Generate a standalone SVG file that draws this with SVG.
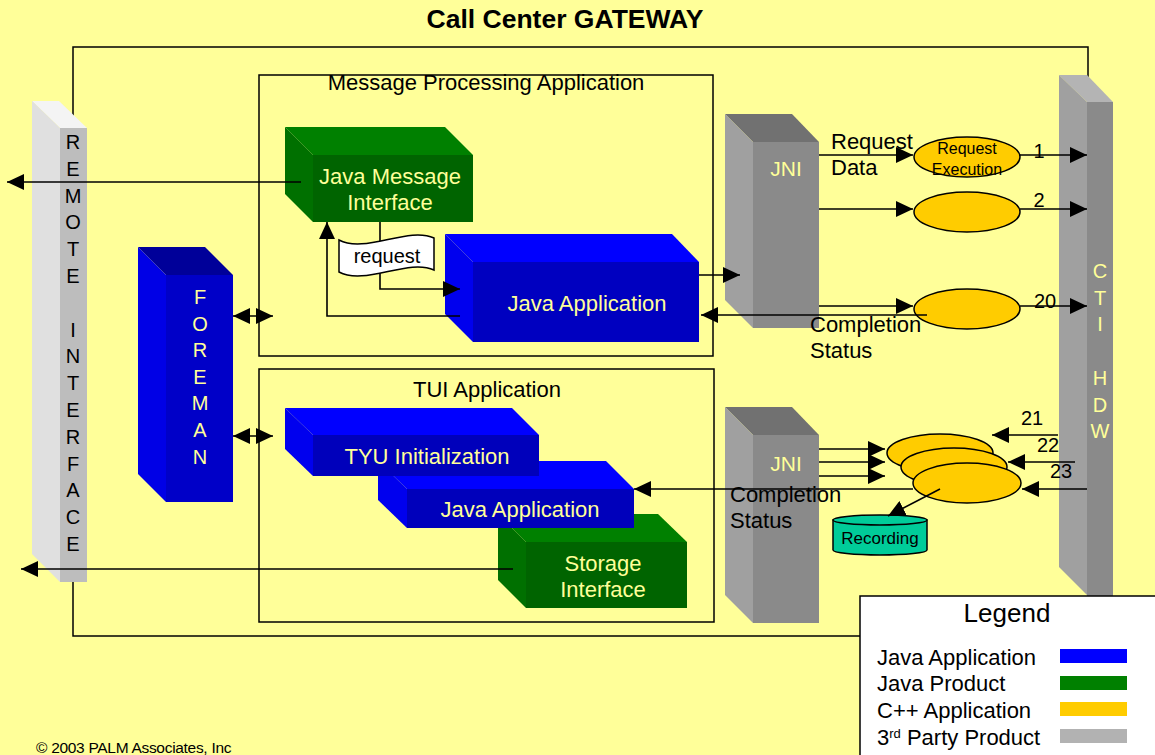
<svg xmlns="http://www.w3.org/2000/svg" width="1155" height="755" viewBox="0 0 1155 755">
<style>
text{font-family:"Liberation Sans",Arial,sans-serif;}
.lbl{font-size:22px;fill:#000;}
.yl{font-size:21px;fill:#FFFF99;}
.box{fill:none;stroke:#000;stroke-width:1.5;}
.con{fill:none;stroke:#000;stroke-width:1.6;}
.ell{fill:#FFCC00;stroke:#000;stroke-width:1.5;}
.vt{font-size:20px;text-anchor:middle;}
</style>
<defs>
<marker id="ah" viewBox="0 0 17 16" refX="17" refY="8" markerWidth="17" markerHeight="16" markerUnits="userSpaceOnUse" orient="auto-start-reverse"><path d="M0,0L17,8L0,16z" fill="#000"/></marker>
</defs>
<rect width="1155" height="755" fill="#FFFF99"/>
<text x="565" y="28" text-anchor="middle" style="font-size:26.5px;font-weight:bold">Call Center GATEWAY</text>
<rect id="gateway" class="box" x="73" y="47" width="1015" height="589"/>
<g id="mpa"><rect class="box" x="259" y="75" width="454" height="281"/><text class="lbl" x="486" y="90" text-anchor="middle">Message Processing Application</text></g>
<g id="tui"><rect class="box" x="259" y="369" width="455" height="253"/><text class="lbl" x="487" y="397" text-anchor="middle">TUI Application</text></g>

<g id="remote-interface">
<polygon points="32,101 59,101 87,128 60,128" fill="#F4F4F4"/>
<polygon points="32,101 60,128 60,582 32,554" fill="#E0E0E0"/>
<rect x="60" y="128" width="27" height="454" fill="#BDBDBD"/>
<text class="vt" fill="#000" x="73" y="149"><tspan x="73">R</tspan><tspan x="73" dy="26.8">E</tspan><tspan x="73" dy="26.8">M</tspan><tspan x="73" dy="26.8">O</tspan><tspan x="73" dy="26.8">T</tspan><tspan x="73" dy="26.8">E</tspan><tspan x="73" dy="53.6">I</tspan><tspan x="73" dy="26.8">N</tspan><tspan x="73" dy="26.8">T</tspan><tspan x="73" dy="26.8">E</tspan><tspan x="73" dy="26.8">R</tspan><tspan x="73" dy="26.8">F</tspan><tspan x="73" dy="26.8">A</tspan><tspan x="73" dy="26.8">C</tspan><tspan x="73" dy="26.8">E</tspan></text>
</g>

<g id="foreman">
<polygon points="138,247 205,247 233,275 166,275" fill="#000099"/>
<polygon points="138,247 166,275 166,502 138,474" fill="#0000E6"/>
<rect x="166" y="275" width="67" height="227" fill="#0000C8"/>
<text class="vt" fill="#FFFF99" x="200" y="304"><tspan x="200">F</tspan><tspan x="200" dy="26.6">O</tspan><tspan x="200" dy="26.6">R</tspan><tspan x="200" dy="26.6">E</tspan><tspan x="200" dy="26.6">M</tspan><tspan x="200" dy="26.6">A</tspan><tspan x="200" dy="26.6">N</tspan></text>
</g>

<g id="cti-hdw">
<polygon points="1059,75 1087,75 1113,102 1087,102" fill="#B4B4B4"/>
<polygon points="1059,75 1087,102 1087,595 1059,567" fill="#A0A0A0"/>
<rect x="1087" y="102" width="26" height="496" fill="#8A8A8A"/>
<text class="vt" fill="#FFFF99" x="1100" y="278"><tspan x="1100">C</tspan><tspan x="1100" dy="26.7">T</tspan><tspan x="1100" dy="26.7">I</tspan><tspan x="1100" dy="53.4">H</tspan><tspan x="1100" dy="26.7">D</tspan><tspan x="1100" dy="26.7">W</tspan></text>
</g>

<g id="java-message-interface">
<polygon points="285,127 445,127 473,155 313,155" fill="#008000"/>
<polygon points="285,127 313,155 313,222 285,194" fill="#007000"/>
<rect x="313" y="155" width="160" height="67" fill="#006400"/>
<text class="yl" x="390" y="184" text-anchor="middle" style="font-size:22px">Java Message</text>
<text class="yl" x="390" y="210" text-anchor="middle" style="font-size:22px">Interface</text>
</g>

<g id="java-application-mpa">
<polygon points="445,234 672,234 699,262 473,262" fill="#0000FF"/>
<polygon points="445,234 473,262 473,342 445,314" fill="#0000EE"/>
<rect x="473" y="262" width="226" height="80" fill="#0000C0"/>
<text class="yl" x="587" y="311" text-anchor="middle" style="font-size:22px">Java Application</text>
</g>

<g id="jni-top">
<polygon points="725,114 792,114 819,142 753,142" fill="#717171"/>
<polygon points="725,114 753,142 753,328 725,300" fill="#A0A0A0"/>
<rect x="753" y="142" width="66" height="186" fill="#8A8A8A"/>
<text class="yl" x="786" y="176" text-anchor="middle">JNI</text>
</g>

<g id="jni-bottom">
<polygon points="725,407 792,407 819,435 753,435" fill="#717171"/>
<polygon points="725,407 753,435 753,623 725,595" fill="#A0A0A0"/>
<rect x="753" y="435" width="66" height="188" fill="#8A8A8A"/>
<text class="yl" x="786" y="471" text-anchor="middle">JNI</text>
</g>

<g id="storage-interface">
<polygon points="498,514 658,514 687,542 526,542" fill="#008000"/>
<polygon points="498,514 526,542 526,608 498,580" fill="#007000"/>
<rect x="526" y="542" width="161" height="66" fill="#006400"/>
<text class="yl" x="603" y="571" text-anchor="middle" style="font-size:22px">Storage</text>
<text class="yl" x="603" y="597" text-anchor="middle" style="font-size:22px">Interface</text>
</g>

<g id="java-application-tui">
<polygon points="378,461 606,461 634,489 407,489" fill="#0000FF"/>
<polygon points="378,461 407,489 407,528 378,500" fill="#0000EE"/>
<rect x="407" y="489" width="227" height="39" fill="#0000BB"/>
<text class="yl" x="520" y="517" text-anchor="middle" style="font-size:22px">Java Application</text>
</g>

<g id="tyu-initialization">
<polygon points="285,408 512,408 539,435 313,435" fill="#0000FF"/>
<polygon points="285,408 313,435 313,476 285,449" fill="#0000EE"/>
<rect x="313" y="435" width="226" height="41" fill="#0000BB"/>
<text class="yl" x="427" y="464" text-anchor="middle" style="font-size:22px">TYU Initialization</text>
</g>

<g id="request-execution-1"><ellipse class="ell" cx="967" cy="157" rx="53" ry="20"/>
<text x="967" y="154" text-anchor="middle" style="font-size:16px">Request</text>
<text x="967" y="175" text-anchor="middle" style="font-size:16px">Execution</text></g>
<g id="request-execution-2"><ellipse class="ell" cx="967" cy="212" rx="53" ry="20"/></g>
<g id="request-execution-20"><ellipse class="ell" cx="967" cy="309" rx="53" ry="20"/></g>
<g id="tui-exec-21"><ellipse class="ell" cx="940" cy="453" rx="53" ry="19"/></g>
<g id="tui-exec-22"><ellipse class="ell" cx="954" cy="467" rx="53" ry="19"/></g>
<g id="tui-exec-23"><ellipse class="ell" cx="967" cy="483" rx="54" ry="20"/></g>

<g id="recording">
<path d="M833,520 V550 A47,5 0 0 0 927,550 V520 Z" fill="#00CC99" stroke="#000" stroke-width="1.5"/>
<ellipse cx="880" cy="520" rx="47" ry="5" fill="#00CC99" stroke="#000" stroke-width="1.5"/>
<text x="880" y="544" text-anchor="middle" style="font-size:17px">Recording</text>
</g>

<g id="connectors" class="con">
<path class="con" d="M301,182 H7" marker-end="url(#ah)"/>
<path class="con" d="M380,222 V289 H460" marker-end="url(#ah)"/>
<path class="con" d="M460,316 H327 V222" marker-end="url(#ah)"/>
<path class="con" d="M233,316 H273" marker-start="url(#ah)" marker-end="url(#ah)"/>
<path class="con" d="M233,436 H273" marker-start="url(#ah)" marker-end="url(#ah)"/>
<path class="con" d="M699,275 H740" marker-end="url(#ah)"/>
<path class="con" d="M927,315 H701" marker-end="url(#ah)"/>
<path class="con" d="M819,155 H913" marker-end="url(#ah)"/>
<path class="con" d="M1020,155 H1087" marker-end="url(#ah)"/>
<path class="con" d="M819,209 H913" marker-end="url(#ah)"/>
<path class="con" d="M1020,209 H1087" marker-end="url(#ah)"/>
<path class="con" d="M819,306 H913" marker-end="url(#ah)"/>
<path class="con" d="M1020,306 H1087" marker-end="url(#ah)"/>
<path class="con" d="M819,449 H885" marker-end="url(#ah)"/>
<path class="con" d="M819,462 H885" marker-end="url(#ah)"/>
<path class="con" d="M819,476 H885" marker-end="url(#ah)"/>
<path class="con" d="M1058,435 H992" marker-end="url(#ah)"/>
<path class="con" d="M1075,462 H1008" marker-end="url(#ah)"/>
<path class="con" d="M1087,489 H1022" marker-end="url(#ah)"/>
<path class="con" d="M913,489 H634" marker-end="url(#ah)"/>
<path class="con" d="M940,489 L888,516" marker-end="url(#ah)"/>
<path class="con" d="M513,569 H21" marker-end="url(#ah)"/>
</g>

<g id="request">
<path d="M339,240 C365,254 408,226 434,238 L434,270 C408,258 365,286 339,272 Z" fill="#FFF" stroke="#000" stroke-width="1.5"/>
<text x="387" y="263" text-anchor="middle" style="font-size:20px">request</text>
</g>

<g id="labels">
<text class="lbl" x="831" y="149">Request</text>
<text class="lbl" x="831" y="175">Data</text>
<text class="lbl" x="810" y="332">Completion</text>
<text class="lbl" x="810" y="358">Status</text>
<text class="lbl" x="730" y="502">Completion</text>
<text class="lbl" x="730" y="528">Status</text>
<text x="1039" y="158" text-anchor="middle" style="font-size:20px">1</text>
<text x="1039" y="207" text-anchor="middle" style="font-size:20px">2</text>
<text x="1045" y="308" text-anchor="middle" style="font-size:20px">20</text>
<text x="1032" y="425" text-anchor="middle" style="font-size:20px">21</text>
<text x="1048" y="452" text-anchor="middle" style="font-size:20px">22</text>
<text x="1061" y="478" text-anchor="middle" style="font-size:20px">23</text>
</g>

<g id="legend">
<rect x="860" y="596" width="300" height="170" fill="#FFF" stroke="#000" stroke-width="1.5"/>
<text x="1007" y="622" text-anchor="middle" style="font-size:26px">Legend</text>
<text class="lbl" x="877" y="665">Java Application</text>
<text class="lbl" x="877" y="691">Java Product</text>
<text class="lbl" x="877" y="718">C++ Application</text>
<text class="lbl" x="877" y="745">3<tspan dy="-7" style="font-size:13px">rd</tspan><tspan dy="7"> Party Product</tspan></text>
<rect x="1060" y="649" width="67" height="14" fill="#0000FF"/>
<rect x="1060" y="676" width="67" height="14" fill="#008000"/>
<rect x="1060" y="702" width="67" height="14" fill="#FFCC00"/>
<rect x="1060" y="729" width="67" height="14" fill="#B2B2B2"/>
</g>

<text x="36" y="753" style="font-size:15.5px;letter-spacing:-0.3px">© 2003 PALM Associates, Inc</text>
</svg>
